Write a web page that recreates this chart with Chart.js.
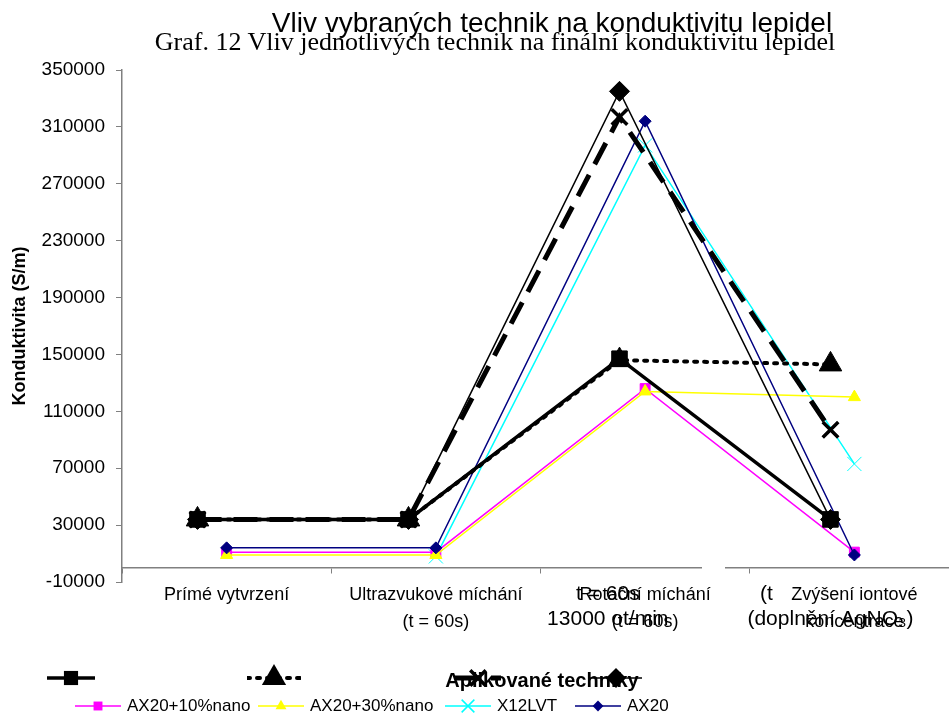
<!DOCTYPE html>
<html lang="cs">
<head>
    <meta charset="UTF-8">
    <title>Vliv vybraných technik na konduktivitu lepidel</title>
    <script src="https://cdn.jsdelivr.net/npm/chart.js"></script>
    <style>
        body {
            margin: 0;
            width: 949px;
            height: 717px;
            overflow: hidden;
            position: relative;
            background: #fff;
            font-family: "Liberation Sans", Arial, sans-serif;
            color: #000;
        }
        .layer { position: absolute; top: 0; height: 717px; }
        #coloredWrap { left: 0; width: 970px; }
        #blackWrap { left: -30px; width: 1000px; }
        #axisGap { position: absolute; left: 702px; top: 565px; width: 23px; height: 6px; background: #fff; }
        .title { position: absolute; white-space: nowrap; transform: translateX(-50%); line-height: 1; }
        #title1 { left: 552px; top: 9px; font-size: 28px; }
        #title2 { left: 495px; top: 29px; font-size: 26px; font-family: "Liberation Serif", "Times New Roman", serif; }
        .legend { position: absolute; left: 0; width: 949px; }
        .item { position: absolute; display: flex; align-items: center; white-space: nowrap; font-size: 17px; }
        .item svg { display: block; }
        .item span { margin-left: 6px; }
        #legendBlackTitle { position: absolute; left: 542px; top: 669px; transform: translateX(-50%); font-weight: bold; font-size: 20px; white-space: nowrap; }
    </style>
</head>
<body>
    <div id="coloredWrap" class="layer"><canvas id="coloredChart" width="970" height="717"></canvas></div>
    <div id="axisGap"></div>
    <div id="legendBlackTitle">Aplikované techniky</div>
    <div id="blackWrap" class="layer"><canvas id="blackChart" width="1000" height="717"></canvas></div>
    <div class="title" id="title1">Vliv vybraných technik na konduktivitu lepidel</div>
    <div class="title" id="title2">Graf. 12 Vliv jednotlivých technik na finální konduktivitu lepidel</div>
    <div class="legend" id="legendBlack"></div>
    <div class="legend" id="legendColored"></div>

    <script>
        // kategorie (barevný graf)
        const categories = ['Prímé vytvrzení', ['Ultrazvukové míchání', '(t = 60s)'], ['Rotační míchání', '(t = 60s)'], ['Zvýšení iontové', 'koncentrace']];
        // popisky černého grafu (viditelné zbytky)
        const blackCategories = ['', '', ['t = 60s    ', '13000 ot/min    '], ['(t' + ' '.repeat(22), '(doplnění AgNO₃)']];

        const seriesNames = ['AX20+10%nano', 'AX20+30%nano', 'X12LVT', 'AX20'];
        const ax20Nano10 = [11000, 11000, 126000, 11000];
        const ax20Nano30 = [9000, 9000, 124000, 120000];
        const x12lvt = [null, 8000, 297000, 73000];
        const ax20 = [14000, 14000, 314000, 9000];

        const blackNames = ['', '', '', ''];
        const blackSquare = [34000, 34000, 147000, 34000];
        const blackTriangle = [34000, 34000, 146000, 143000];
        const blackCross = [34000, 34000, 317000, 97000];
        const blackDiamond = [34000, 34000, 335000, 34000];

        const yMin = -10000, yMax = 350000, yStep = 40000;

        const coloredStyles = [
            { color: '#FF00FF', marker: 'rect', r: 7, width: 1.5, order: 2 },
            { color: '#FFFF00', marker: 'triangle', r: 7, width: 1.5, order: 1 },
            { color: '#00FFFF', marker: 'crossRot', r: 10, width: 1.5, order: 3 },
            { color: '#000080', marker: 'rectRot', r: 6, width: 1.5, order: 0 }
        ];
        const blackStyles = [
            { marker: 'rect', r: 11, width: 3.5, dash: [], order: 3 },
            { marker: 'triangle', r: 13, width: 4, dash: [3, 7], cap: 'round', order: 2 },
            { marker: 'crossRot', r: 11, width: 5, dash: [24, 12], pw: 3.5, order: 1 },
            { marker: 'rectRot', r: 10, width: 1.5, dash: [], order: 0 }
        ];

        function makeDataset(label, data, st, color) {
            return {
                label: label,
                data: data,
                borderColor: color,
                backgroundColor: color,
                borderWidth: st.width,
                borderDash: st.dash || [],
                borderCapStyle: st.cap || 'butt',
                pointStyle: st.marker,
                pointRadius: st.r,
                pointBackgroundColor: color,
                pointBorderColor: color,
                pointBorderWidth: st.pw || 1,
                tension: 0,
                spanGaps: false,
                order: st.order
            };
        }

        const coloredData = [ax20Nano10, ax20Nano30, x12lvt, ax20];
        const blackData = [blackSquare, blackTriangle, blackCross, blackDiamond];

        new Chart(document.getElementById('coloredChart'), {
            type: 'line',
            data: {
                labels: categories,
                datasets: coloredData.map((d, i) => makeDataset(seriesNames[i], d, coloredStyles[i], coloredStyles[i].color))
            },
            options: {
                responsive: false,
                animation: false,
                events: [],
                layout: { padding: { top: 70, bottom: 135, left: 0, right: 6 } },
                plugins: { legend: { display: false }, tooltip: { enabled: false } },
                scales: {
                    x: {
                        offset: true,
                        position: { y: 0 },
                        ticks: { color: '#000', font: { size: 18, family: 'Liberation Sans', lineHeight: 1.5 }, padding: 9, maxRotation: 0, autoSkip: false },
                        grid: { offset: true, drawOnChartArea: false, tickLength: 5, color: '#808080' },
                        border: { color: '#808080', width: 1.5 }
                    },
                    y: {
                        min: yMin,
                        max: yMax,
                        ticks: { stepSize: yStep, callback: v => String(v), color: '#000', font: { size: 19, family: 'Liberation Sans' }, padding: 11 },
                        grid: { drawOnChartArea: false, tickLength: 6, color: '#808080' },
                        border: { color: '#808080', width: 1.5 },
                        title: { display: true, text: 'Konduktivita (S/m)', color: '#000', font: { size: 18, weight: 'bold', family: 'Liberation Sans' }, padding: { top: 9, bottom: 4 } },
                        afterFit: s => { s.width = 122; }
                    }
                }
            }
        });

        new Chart(document.getElementById('blackChart'), {
            type: 'line',
            data: {
                labels: blackCategories,
                datasets: blackData.map((d, i) => makeDataset(blackNames[i], d, blackStyles[i], '#000'))
            },
            options: {
                responsive: false,
                animation: false,
                events: [],
                layout: { padding: { top: 70, bottom: 135, left: 122, right: 34 } },
                plugins: { legend: { display: false }, tooltip: { enabled: false } },
                scales: {
                    x: {
                        offset: true,
                        position: { y: 0 },
                        ticks: { color: '#000', font: { size: 21, family: 'Liberation Sans', lineHeight: 1.2 }, padding: 6, maxRotation: 0, autoSkip: false },
                        grid: { display: false },
                        border: { display: false }
                    },
                    y: { display: false, min: yMin, max: yMax }
                }
            }
        });

        // legendy
        function markerSvg(kind, cx, cy, r, color, sw) {
            if (kind === 'rect') {
                const s = r * Math.SQRT1_2;
                return `<rect x="${cx - s}" y="${cy - s}" width="${2 * s}" height="${2 * s}" fill="${color}"/>`;
            }
            if (kind === 'triangle') {
                return `<polygon points="${cx},${cy - r} ${cx + r * 0.866},${cy + r * 0.5} ${cx - r * 0.866},${cy + r * 0.5}" fill="${color}"/>`;
            }
            if (kind === 'rectRot') {
                return `<polygon points="${cx},${cy - r} ${cx + r},${cy} ${cx},${cy + r} ${cx - r},${cy}" fill="${color}"/>`;
            }
            const d = r * Math.SQRT1_2;
            return `<path d="M${cx - d} ${cy - d}L${cx + d} ${cy + d}M${cx + d} ${cy - d}L${cx - d} ${cy + d}" stroke="${color}" stroke-width="${sw}"/>`;
        }

        function sampleSvg(st, color, w, r) {
            const h = 28, cy = 14;
            const dash = st.dash && st.dash.length ? `stroke-dasharray="${st.dash.join(' ')}"` : '';
            const cap = st.cap || 'butt';
            return `<svg width="${w}" height="${h}"><line x1="0" y1="${cy}" x2="${w}" y2="${cy}" stroke="${color}" stroke-width="${st.width}" stroke-linecap="${cap}" ${dash}/>` +
                markerSvg(st.marker, w / 2, cy, r, color, st.pw || 1.5) + '</svg>';
        }

        const coloredLegendLeft = [75, 258, 445, 575];
        const legendColored = document.getElementById('legendColored');
        seriesNames.forEach((name, i) => {
            const el = document.createElement('div');
            el.className = 'item';
            el.style.left = coloredLegendLeft[i] + 'px';
            el.style.top = '692px';
            el.innerHTML = sampleSvg(coloredStyles[i], coloredStyles[i].color, 46, coloredStyles[i].r * 0.9) + `<span>${name}</span>`;
            legendColored.appendChild(el);
        });

        const blackLegendLeft = [47, 247, 455, 590];
        const blackLegendWidth = [48, 54, 46, 52];
        const blackLegendR = [10, 14, 11, 10];
        const legendBlack = document.getElementById('legendBlack');
        blackNames.forEach((name, i) => {
            const el = document.createElement('div');
            el.className = 'item';
            el.style.left = blackLegendLeft[i] + 'px';
            el.style.top = '664px';
            el.innerHTML = sampleSvg(blackStyles[i], '#000', blackLegendWidth[i], blackLegendR[i]) + (name ? `<span>${name}</span>` : '');
            legendBlack.appendChild(el);
        });
    </script>
</body>
</html>
